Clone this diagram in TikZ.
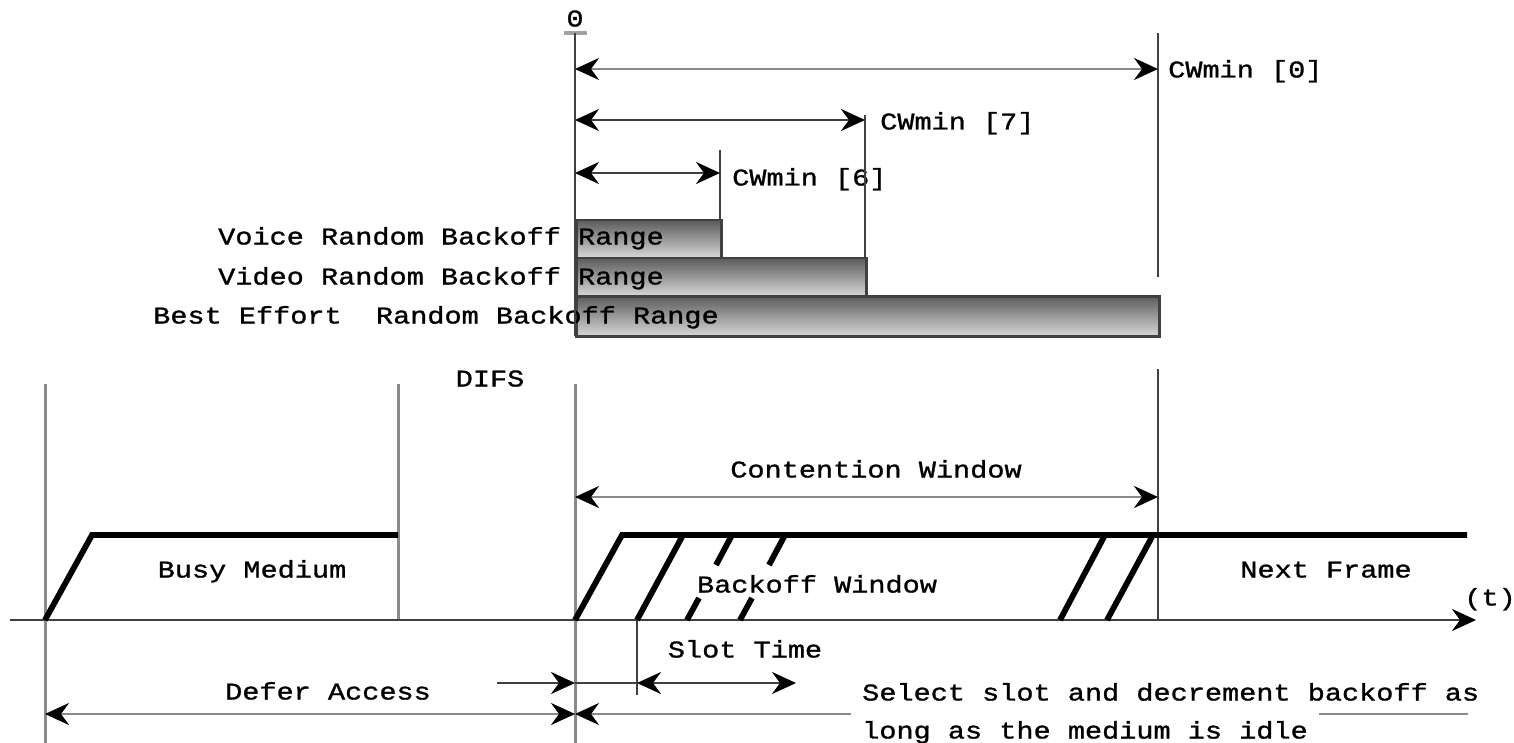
\documentclass[tikz,border=0pt]{standalone}
\usepackage{fontspec}
\setmonofont{Liberation Mono}[FakeStretch=1.19,FakeBold=1.2]
\usetikzlibrary{arrows.meta}
\definecolor{dk}{HTML}{404040}
\definecolor{lg}{HTML}{8A8A8A}
\definecolor{bartop}{HTML}{5C5C5C}
\definecolor{barbot}{HTML}{D8D8D8}
\begin{document}
\begin{tikzpicture}[x=1pt,y=-1pt,
  >={Stealth[length=24pt,width=22pt,inset=8pt,color=black]},
  lbl/.style={font=\ttfamily\fontsize{24}{24}\selectfont, inner sep=0pt, text height=15pt, text depth=0pt},
  dline/.style={line width=2.8pt, draw=dk},
  gline/.style={line width=2.8pt, draw=lg},
  gvert/.style={line width=3pt, draw=lg},
  heavy/.style={line width=5.8pt, draw=black, line join=miter},
  bar/.style={draw=dk, line width=2.5pt, top color=bartop, bottom color=barbot, inner sep=0pt, anchor=north west},
]
\useasboundingbox (0,0) rectangle (1514,743);
\fill[white] (0,0) rectangle (1514,743);

% ---------- upper part: coordinates ----------
\coordinate (z0) at (575,33);
\coordinate (tickL) at (564,33);
\coordinate (tickR) at (587,33);
\coordinate (zbot) at (575,336);
\coordinate (c0top) at (1158,33);
\coordinate (c0bot) at (1158,277);
\coordinate (c7top) at (865,115);
\coordinate (c7bot) at (865,257);
\coordinate (c6top) at (720,150);
\coordinate (c6bot) at (720,219);
\coordinate (a0L) at (575,69);  \coordinate (a0R) at (1158,69);
\coordinate (a7L) at (575,120); \coordinate (a7R) at (865,120);
\coordinate (a6L) at (575,173); \coordinate (a6R) at (720,173);

% bars
\node[bar, minimum width=583pt, minimum height=40pt] (bebar) at (575,295) {};
\node[bar, minimum width=290pt, minimum height=38pt] (vibar) at (575,257) {};
\node[bar, minimum width=145pt, minimum height=38pt] (vobar) at (575,219) {};

% labels upper
\node[lbl] (t0) at (575,19) {0};
\node[lbl,anchor=west] (tc0) at (1168,70) {CWmin [0]};
\node[lbl,anchor=west] (tc7) at (880,122) {CWmin [7]};
\node[lbl,anchor=west] (tc6) at (732,178) {CWmin [6]};
\node[lbl,anchor=west] (tvo) at (218,237) {Voice Random Backoff Range};
\node[lbl,anchor=west] (tvi) at (218,277) {Video Random Backoff Range};
\node[lbl,anchor=west] (tbe) at (153,316) {Best Effort\ \ Random Backoff Range};

% lines upper
\draw[line width=4pt, draw=lg!80] (tickL) -- (tickR);
\draw[dline] (z0) -- (zbot);
\draw[dline] (c0top) -- (c0bot);
\draw[dline] (c7top) -- (c7bot);
\draw[dline] (c6top) -- (c6bot);
\draw[gline,<->] (a0L) -- (a0R);
\draw[dline,<->] (a7L) -- (a7R);
\draw[dline,<->] (a6L) -- (a6R);

% ---------- lower part ----------
\coordinate (v1t) at (45,384);   \coordinate (v1b) at (45,743);
\coordinate (v2t) at (398,384);  \coordinate (v2b) at (398,620);
\coordinate (v3t) at (575,384);  \coordinate (v3b) at (575,743);
\coordinate (v4t) at (1158,369); \coordinate (v4b) at (1158,620);
\coordinate (v5t) at (637,620);  \coordinate (v5b) at (637,695);
\coordinate (axL) at (10,620);   \coordinate (axR) at (1476,620);
\coordinate (cwL) at (575,497);  \coordinate (cwR) at (1158,497);
\coordinate (b1) at (45,620);  \coordinate (b2) at (92,535);  \coordinate (b3) at (398,535);
\coordinate (w1) at (575,620); \coordinate (w2) at (622,535); \coordinate (w3) at (1467,535);
\coordinate (s2a) at (637,620);  \coordinate (s2b) at (683,535);
\coordinate (s3a) at (687,620);  \coordinate (s3b) at (699,598);
\coordinate (s3c) at (716,565);  \coordinate (s3d) at (732,535);
\coordinate (s4a) at (740,620);  \coordinate (s4b) at (752,598);
\coordinate (s4c) at (769,565);  \coordinate (s4d) at (785,535);
\coordinate (s5a) at (1060,620); \coordinate (s5b) at (1105,535);
\coordinate (s6a) at (1107,620); \coordinate (s6b) at (1153,535);
\coordinate (dfL) at (45,714); \coordinate (dfM) at (575,714); \coordinate (dfR) at (1468,714);
\coordinate (difsS) at (497,683); \coordinate (difsE) at (575,683);
\coordinate (slL) at (637,683); \coordinate (slR) at (796,683);

\draw[gvert] (v1t) -- (v1b);
\draw[gvert] (v2t) -- (v2b);
\draw[gvert] (v3t) -- (v3b);
\draw[dline] (v4t) -- (v4b);
\draw[dline] (v5t) -- (v5b);
\draw[dline,->] (axL) -- (axR);
\draw[gline,<->] (cwL) -- (cwR);

\draw[heavy] (b1) -- (b2) -- (b3);
\draw[heavy] (w1) -- (w2) -- (w3);
\draw[heavy] (s2a) -- (s2b);
\draw[heavy] (s3a) -- (s3b);
\draw[heavy] (s3c) -- (s3d);
\draw[heavy] (s4a) -- (s4b);
\draw[heavy] (s4c) -- (s4d);
\draw[heavy] (s5a) -- (s5b);
\draw[heavy] (s6a) -- (s6b);

\draw[dline,->] (difsS) -- (difsE);
\draw[dline] (difsE) -- (slL);
\draw[dline,<->] (slL) -- (slR);
\draw[gline,<->] (dfL) -- (dfM);
\draw[gline,<-] (dfM) -- (dfR);

% labels lower
\node[lbl] (tdifs) at (490,379) {DIFS};
\node[lbl] (tcw) at (876,470) {Contention Window};
\node[lbl] (tbusy) at (252,570) {Busy Medium};
\node[lbl] (tbw) at (817,585) {Backoff Window};
\node[lbl] (tnf) at (1326,570) {Next Frame};
\node[lbl] (tt) at (1490,598) {(t)};
\node[lbl] (tslot) at (745,650) {Slot Time};
\node[lbl] (tdef) at (328,692) {Defer Access};
\node[lbl,anchor=west] (tsel1) at (862,693) {Select slot and decrement backoff as};
\node[lbl,anchor=west,fill=white,inner xsep=11pt,inner ysep=14pt] (tsel2) at (851,731) {long as the medium is idle};
\end{tikzpicture}
\end{document}
